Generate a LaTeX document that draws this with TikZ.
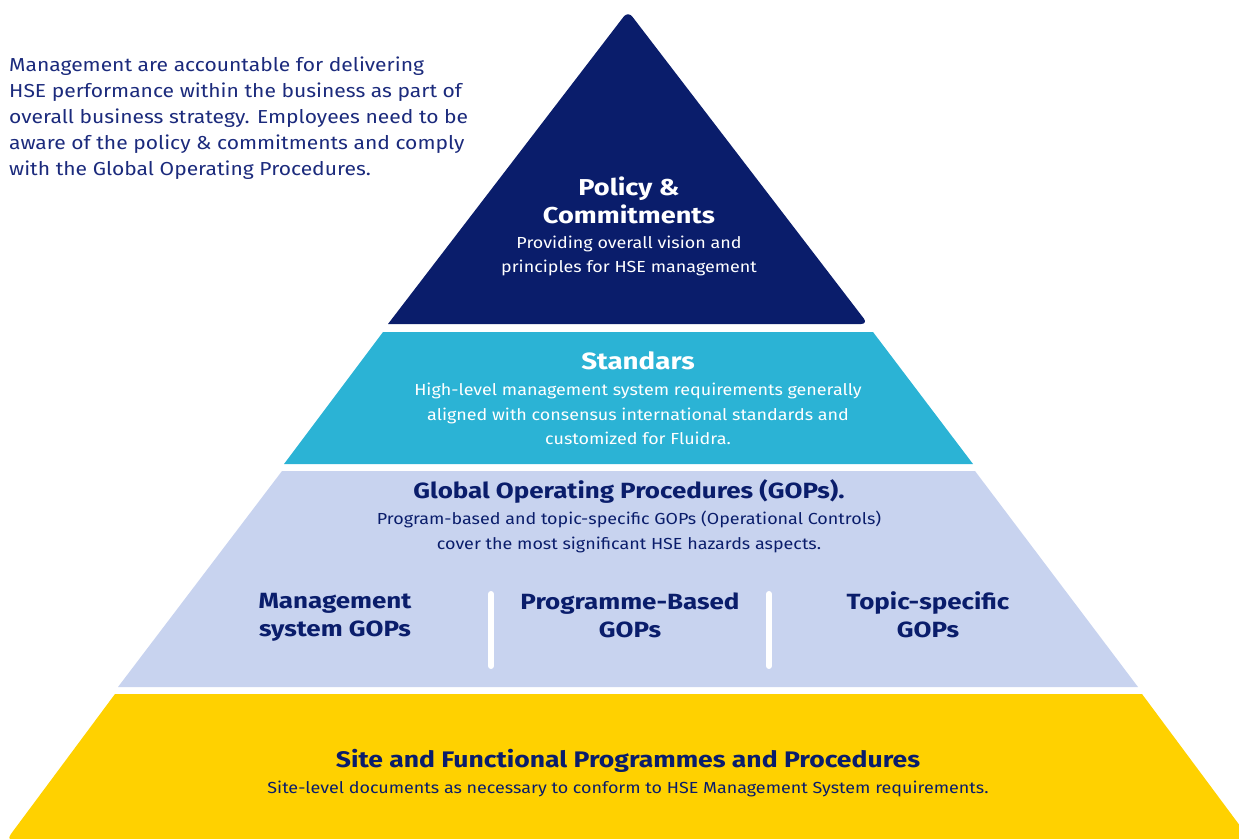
\documentclass[tikz,border=0pt]{standalone}
\usepackage{fontspec}
\setmainfont{Fira Sans}
\newfontfamily\bodyf[FakeStretch=1.12]{Fira Sans}
\newfontfamily\titlef[FakeStretch=1.18]{Fira Sans}
\definecolor{navy}{HTML}{0A1D6B}
\definecolor{txtnavy}{HTML}{1B2A7C}
\definecolor{cyanl}{HTML}{2BB3D5}
\definecolor{lav}{HTML}{C8D3EF}
\definecolor{yel}{HTML}{FFD100}
\tikzset{
  title/.style={font=\titlef\fontsize{22}{28}\selectfont\bfseries, align=center, inner sep=0pt},
  body/.style={font=\bodyf\fontsize{16}{24.5}\selectfont, align=center, inner sep=0pt},
  sep/.style={white, line width=6pt, line cap=round}
}
\begin{document}
\begin{tikzpicture}[x=1pt,y=-1pt]
\useasboundingbox (0,0) rectangle (1239,838);
\begin{scope}
\clip (0,0) rectangle (1239,838);
% top triangle
\fill[navy, rounded corners=7pt] (388,324) -- (628,11) -- (868,324) [sharp corners] -- cycle;
% standards
\fill[cyanl] (383,332) -- (873,332) -- (973,464) -- (284,464) -- cycle;
% GOPs
\fill[lav] (282,471) -- (975,471) -- (1138,687) -- (118,687) -- cycle;
% site
\fill[yel] (1142,694) -- (115,694) [rounded corners=10pt] -- (5,842) -- (1252,842) [sharp corners] -- cycle;
\end{scope}
% separators
\coordinate (s1a) at (491,594); \coordinate (s1b) at (491,666);
\coordinate (s2a) at (769,594); \coordinate (s2b) at (769,666);
\draw[sep] (s1a) -- (s1b);
\draw[sep] (s2a) -- (s2b);
% left text
\node[anchor=north west, align=left, inner sep=0pt, text=txtnavy, font=\bodyf\fontsize{18.8}{26}\selectfont] (intro) at (9,57)
{Management are accountable for delivering\\HSE performance within the business as part of\\overall business strategy. Employees need to be\\aware of the policy \& commitments and comply\\with the Global Operating Procedures.};
% policy
\node[title, text=white, font=\titlef\fontsize{23}{28}\selectfont\bfseries] (pol) at (629,200) {Policy \&\\Commitments};
\node[body, text=white] (polb) at (629,256) {Providing overall vision and\\principles for HSE management};
% standards
\node[title, text=white, font=\titlef\fontsize{23.5}{28}\selectfont\bfseries] (std) at (638,361) {Standars};
\node[body, text=white] (stdb) at (638,414) {High-level management system requirements generally\\aligned with consensus international standards and\\customized for Fluidra.};
% GOPs
\node[title, text=navy] (gop) at (629,491) {Global Operating Procedures (GOPs).};
\node[body, text=navy] (gopb) at (629,532) {Program-based and topic-specific GOPs (Operational Controls)\\cover the most significant HSE hazards aspects.};
\node[title, text=navy] (g1) at (335,617) {Management\\system GOPs};
\node[title, text=navy] (g2) at (630,615) {Programme-Based\\GOPs};
\node[title, text=navy] (g3) at (928,615) {Topic-specific\\GOPs};
% site
\node[title, text=navy, font=\titlef\fontsize{22.5}{28}\selectfont\bfseries] (site) at (628,761) {Site and Functional Programmes and Procedures};
\node[body, text=navy] (siteb) at (628,789) {Site-level documents as necessary to conform to HSE Management System requirements.};
\end{tikzpicture}
\end{document}
